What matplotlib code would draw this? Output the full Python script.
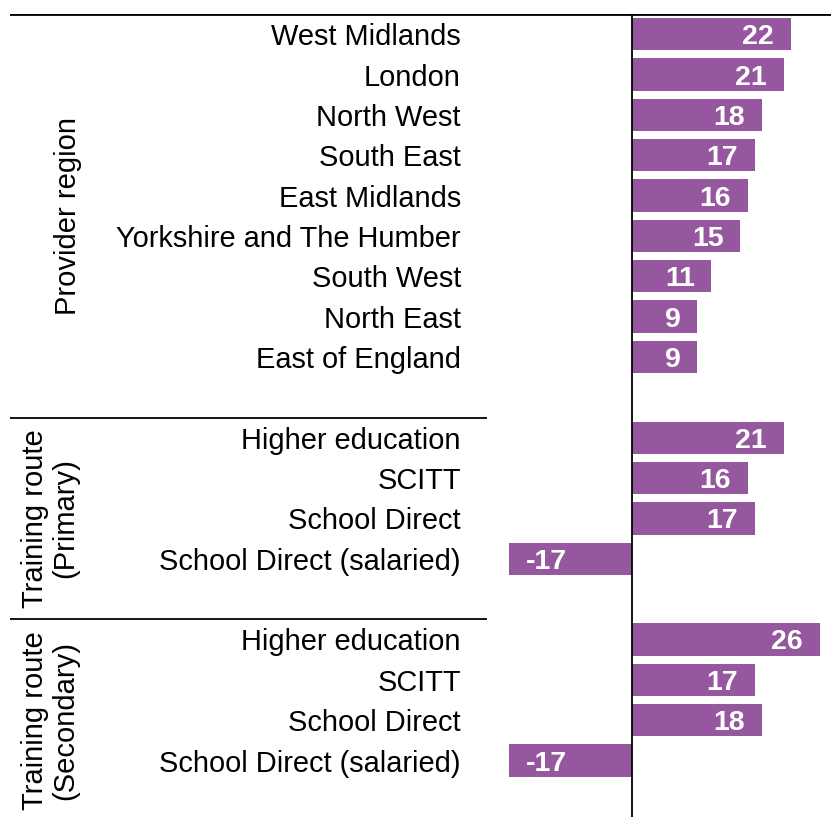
import matplotlib.pyplot as plt

plt.rcParams['font.family'] = ['Liberation Sans', 'DejaVu Sans']

# provider regions
regions = ['West Midlands', 'London', 'North West', 'South East', 'East Midlands',
           'Yorkshire and The Humber', 'South West', 'North East', 'East of England']
region_vals = [22, 21, 18, 17, 16, 15, 11, 9, 9]

# training routes
routes = ['Higher education', 'SCITT', 'School Direct', 'School Direct (salaried)']
primary_vals = [21, 16, 17, -17]
secondary_vals = [26, 17, 18, -17]

groups = ['Provider region', 'Training route\n(Primary)', 'Training route\n(Secondary)']

BAR = '#95589e'
W, H = 831, 817
PX = 7.22         # pixels per unit
ZERO = 632        # pixel x of zero line

labels = regions + routes + routes
values = region_vals + primary_vals + secondary_vals
# one blank row between blocks
ypos = list(range(0, 9)) + list(range(10, 14)) + list(range(15, 19))

fig = plt.figure(figsize=(W / 100, H / 100), dpi=100)
ax = fig.add_axes([10 / W, 0, (W - 10) / W, (H - 14) / H])
xmin = -(ZERO - 10) / PX
xmax = (W - ZERO) / PX
ax.set_xlim(xmin, xmax)
ax.set_ylim(19.4, -0.5)
ax.axis('off')

ax.barh(ypos, values, height=0.8, color=BAR)

for y, v, lab in zip(ypos, values, labels):
    ax.text((461 - ZERO) / PX, y, lab, ha='right', va='center_baseline', fontsize=20.9)
    if v >= 0:
        ax.annotate(str(v), (v, y), xytext=(-12, 0), textcoords='offset points',
                    ha='right', va='center_baseline', color='white', fontsize=20.5,
                    fontweight='bold')
    else:
        ax.annotate(str(v), (v, y), xytext=(12, 0), textcoords='offset points',
                    ha='left', va='center_baseline', color='white', fontsize=20.5,
                    fontweight='bold')

# frame lines
ax.axhline(-0.5, color='black', lw=2)
ax.axvline(0, color='black', lw=1.3)
sep_end = (487 - ZERO) / PX
ax.hlines([9.5, 14.5], xmin, sep_end, color='black', lw=1.3)

# group titles
ax.text((68 - ZERO) / PX, 4.5, groups[0], rotation=90, ha='center', va='center', fontsize=21)
ax.text((50 - ZERO) / PX, 12, groups[1], rotation=90, ha='center', va='center',
        fontsize=21, multialignment='center', linespacing=1.1)
ax.text((50 - ZERO) / PX, 17, groups[2], rotation=90, ha='center', va='center',
        fontsize=21, multialignment='center', linespacing=1.1)

fig.savefig('out.png', dpi=100)
